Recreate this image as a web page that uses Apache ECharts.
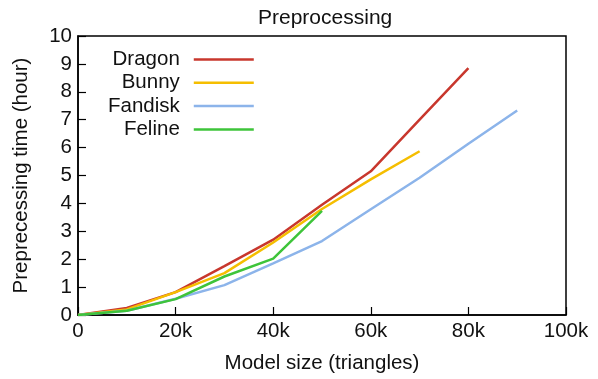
<!DOCTYPE html>
<html>
<head>
<meta charset="utf-8">
<script src="https://cdn.jsdelivr.net/npm/echarts@6/dist/echarts.min.js"></script>
<style>
  html, body { margin: 0; padding: 0; background: #fff; }
  #chart { width: 598px; height: 379px; }
</style>
</head>
<body>
<div id="chart"></div>
<script>
// --- data ---
const sizes = [0, 10000, 20000, 30000, 40000, 50000, 60000, 70000, 80000, 90000];
const dragon = [0, 0.25, 0.82, 1.75, 2.7, 3.95, 5.15, 7.0, 8.85];
const bunny = [0, 0.2, 0.82, 1.5, 2.6, 3.8, 4.86, 5.87];
const fandisk = [0, 0.15, 0.58, 1.07, 1.85, 2.65, 3.79, 4.92, 6.14, 7.33];
const feline = [0, 0.15, 0.57, 1.38, 2.02, 3.73];

const names = ['Dragon', 'Bunny', 'Fandisk', 'Feline'];
const colors = ['#c8372d', '#f5be00', '#8cb4ea', '#3ec43a'];
const values = [dragon, bunny, fandisk, feline];

const FONT = '"Liberation Sans", Arial, sans-serif';
const FS = 20.5;

const pairs = vals => vals.map((v, i) => [sizes[i], v]);

const chart = echarts.init(document.getElementById('chart'));
chart.setOption({
  animation: false,
  title: {
    text: 'Preprocessing',
    left: 253,
    top: 3,
    textStyle: { fontFamily: FONT, fontSize: 21, fontWeight: 'normal', color: '#111' }
  },
  legend: {
    orient: 'vertical',
    align: 'right',
    left: 103,
    top: 44,
    icon: 'rect',
    itemWidth: 60,
    itemHeight: 2.5,
    itemGap: 2.3,
    data: names,
    textStyle: { fontFamily: FONT, fontSize: FS, color: '#111', padding: [0, 9, 0, 0] }
  },
  grid: {
    left: 78, right: 32, top: 36, bottom: 63,
    show: true, borderColor: '#000', borderWidth: 1.5, backgroundColor: 'transparent'
  },
  xAxis: {
    type: 'value',
    min: 0, max: 100000, interval: 20000,
    name: 'Model size (triangles)',
    nameLocation: 'middle',
    nameGap: 38,
    nameTextStyle: { fontFamily: FONT, fontSize: FS, color: '#111' },
    axisLine: { show: true, lineStyle: { color: '#000', width: 1.5 } },
    axisTick: { show: true, inside: true, length: 8, lineStyle: { color: '#000', width: 1.2 } },
    splitLine: { show: false },
    axisLabel: {
      fontFamily: FONT, fontSize: FS, color: '#111', margin: 6,
      formatter: v => v === 0 ? '0' : (v / 1000) + 'k'
    }
  },
  yAxis: {
    type: 'value',
    min: 0, max: 10, interval: 1,
    name: 'Preprecessing time (hour)',
    nameLocation: 'middle',
    nameGap: 46,
    nameTextStyle: { fontFamily: FONT, fontSize: FS, color: '#111' },
    axisLine: { show: true, lineStyle: { color: '#000', width: 1.5 } },
    axisTick: { show: true, inside: true, length: 8, lineStyle: { color: '#000', width: 1.2 } },
    splitLine: { show: false },
    axisLabel: { fontFamily: FONT, fontSize: FS, color: '#111', margin: 6 }
  },
  series: names.map((n, i) => ({
    name: n,
    type: 'line',
    data: pairs(values[i]),
    showSymbol: false,
    symbol: 'none',
    color: colors[i],
    lineStyle: { color: colors[i], width: 2.5 }
  }))
});
</script>
</body>
</html>
